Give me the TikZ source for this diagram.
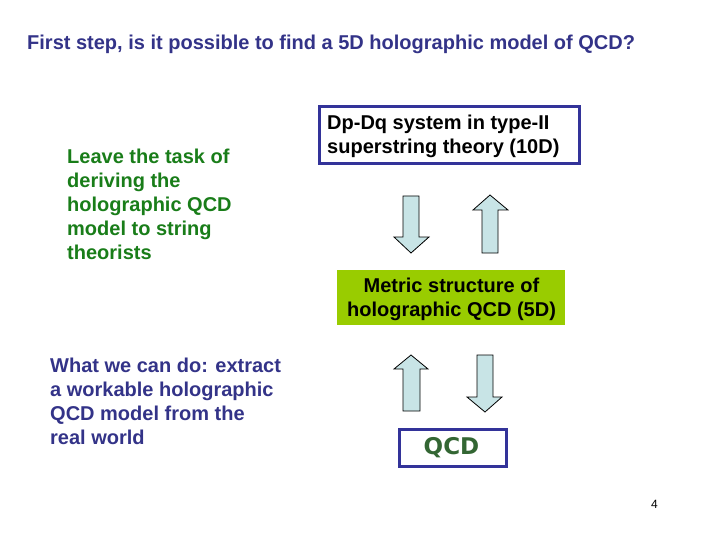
\documentclass[tikz,border=0pt]{standalone}
\usepackage{fontspec}
\setmainfont{Liberation Sans}
\newfontfamily\qcdfont{DejaVu Sans}
\definecolor{titleblue}{RGB}{51,51,136}
\definecolor{boxblue}{RGB}{51,51,153}
\definecolor{leafgreen}{RGB}{25,125,25}
\definecolor{limegreen}{RGB}{153,204,0}
\definecolor{qcdgreen}{RGB}{51,102,51}
\definecolor{arrowfill}{RGB}{200,228,230}
\tikzset{
  bigtext/.style={font=\bfseries\fontsize{20}{24}\selectfont, inner sep=0pt, align=left},
  blockarrow/.style={fill=arrowfill, draw=black, line width=0.8pt, line join=miter},
}
\begin{document}
\begin{tikzpicture}[x=1pt,y=-1pt]
\useasboundingbox (0,0) rectangle (720,540);
% title
\node[bigtext, text=titleblue, anchor=base west] (title) at (27,50) {First step, is it possible to find a 5D holographic model of QCD?};
% top box
\draw[boxblue, line width=3pt, fill=white] (319.5,106.5) rectangle (579.5,163.5);
\node[bigtext, anchor=north west] (dpdq) at (327,114.5) {Dp-Dq system in type-II\\superstring theory (10D)};
% green box
\fill[limegreen] (337,270) rectangle (565,325);
\node[bigtext, align=center, anchor=north] (metric) at (451.5,277.5) {Metric structure of\\holographic QCD (5D)};
% QCD box
\draw[boxblue, line width=3.5pt, fill=white] (399.5,429.5) rectangle (506.5,466.5);
\node[font=\qcdfont\bfseries\fontsize{23}{25}\selectfont, text=qcdgreen, inner sep=0pt, anchor=base] (qcd) at (451.5,454) {QCD};
% left texts
\node[bigtext, text=leafgreen, anchor=north west] (leave) at (67,148.5) {Leave the task of\\deriving the\\holographic QCD\\model to string\\theorists};
\node[bigtext, text=titleblue, anchor=north west] (what) at (50,357.5) {What we can do: extract\\a workable holographic\\QCD model from the\\real world};
% arrows upper
\draw[blockarrow] (403,196) -- (419,196) -- (419,237) -- (429,237) -- (411,253) -- (394,237) -- (403,237) -- cycle;
\draw[blockarrow] (482,253) -- (498,253) -- (498,210) -- (508,210) -- (490,195) -- (473,210) -- (482,210) -- cycle;
% arrows lower
\draw[blockarrow] (403,411) -- (420,411) -- (420,369) -- (428,369) -- (411,355) -- (394,369) -- (403,369) -- cycle;
\draw[blockarrow] (477,355) -- (493,355) -- (493,397) -- (502,397) -- (485,412) -- (467,397) -- (477,397) -- cycle;
% page number
\node[font=\fontsize{12}{14}\selectfont, inner sep=0pt, anchor=base west] (pagenum) at (651,508) {4};
\end{tikzpicture}
\end{document}
